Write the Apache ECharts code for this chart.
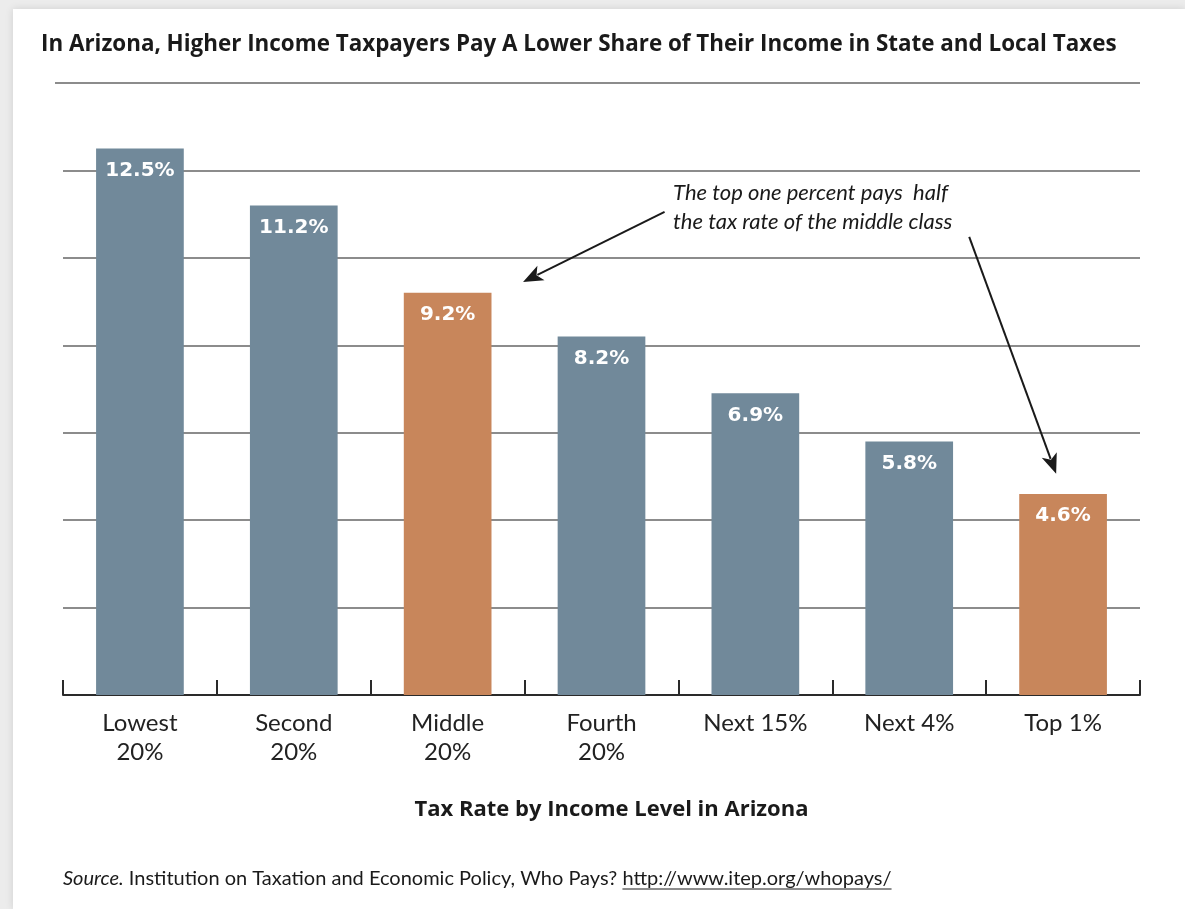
<!DOCTYPE html>
<html>
<head>
<meta charset="utf-8">
<script src="https://cdn.jsdelivr.net/npm/echarts@6/dist/echarts.min.js"></script>
<style>
html,body{margin:0;padding:0;background:#fff;}
#chart{width:1185px;height:909px;}
</style>
</head>
<body>
<div id="chart"></div>
<script>
// ---- data ----
const categories = ['Lowest\n20%', 'Second\n20%', 'Middle\n20%', 'Fourth\n20%', 'Next 15%', 'Next 4%', 'Top 1%'];
const rates = [12.5, 11.2, 9.2, 8.2, 6.9, 5.8, 4.6];
const highlighted = [false, false, true, false, false, false, true];
const yMin = 0, yMax = 14, yInterval = 2;
const titleText = 'In Arizona, Higher Income Taxpayers Pay A Lower Share of Their Income in State and Local Taxes';
const axisTitle = 'Tax Rate by Income Level in Arizona';
const sourceLabel = 'Source.';
const sourceBody = ' Institution on Taxation and Economic Policy, Who Pays? ';
const sourceUrl = 'http://www.itep.org/whopays/';
const noteLines = ['The top one percent pays  half', 'the tax rate of the middle class'];
// annotation anchors in data space: [category index (fractional), value]
const noteAnchor = [3.465, 11.15];
const arrows = [
  { from: [3.41, 11.05], to: [2.49, 9.45] },
  { from: [5.39, 10.48], to: [5.955, 5.06] }
];

const BLUE = '#71899a';
const ORANGE = '#c8865b';
const FONT = 'Lato, "Open Sans", sans-serif';
const BOLDFONT = '"Open Sans", Lato, sans-serif';

const chart = echarts.init(document.getElementById('chart'), null, { renderer: 'canvas' });

chart.setOption({
  backgroundColor: '#ffffff',
  animation: false,
  title: {
    text: titleText,
    left: 36, top: 29,
    textStyle: { fontFamily: BOLDFONT, fontWeight: 'bold', fontSize: 22.4, color: '#1a1a1a' }
  },
  grid: { left: 63, right: 45, top: 83, bottom: 214, containLabel: false },
  xAxis: {
    type: 'category',
    data: categories,
    axisLine: { show: true, lineStyle: { color: '#2a2a2a', width: 2 } },
    axisTick: { show: true, inside: true, length: 15, alignWithLabel: false, lineStyle: { color: '#2a2a2a', width: 2 } },
    axisLabel: { fontFamily: FONT, fontSize: 24, color: '#222', lineHeight: 29, margin: 14, interval: 0 },
    name: axisTitle,
    nameLocation: 'middle',
    nameGap: 104,
    nameTextStyle: { fontFamily: BOLDFONT, fontWeight: 'bold', fontSize: 22, color: '#1a1a1a', padding: [0, 0, 0, 20] },
    splitLine: { show: false }
  },
  yAxis: {
    type: 'value',
    min: yMin, max: yMax, interval: yInterval,
    axisLine: { show: false },
    axisTick: { show: false },
    axisLabel: { show: false },
    splitLine: { show: true, lineStyle: { color: '#8c8c8c', width: 2 } }
  },
  series: [{
    type: 'bar',
    barWidth: '57%',
    data: rates.map((v, i) => ({
      value: v,
      itemStyle: { color: highlighted[i] ? ORANGE : BLUE }
    })),
    label: {
      show: true,
      position: 'insideTop',
      distance: 12,
      formatter: p => p.value.toFixed(1) + '%',
      fontFamily: '"DejaVu Sans", sans-serif',
      fontWeight: 'bold',
      fontSize: 20,
      color: '#ffffff'
    },
    z: 3
  }]
});

// ---- annotations, positioned through the chart's own scales ----
function px(idx, val) {
  const c0 = chart.convertToPixel({ xAxisIndex: 0 }, 0);
  const c1 = chart.convertToPixel({ xAxisIndex: 0 }, 1);
  const x = c0 + (c1 - c0) * idx;
  const y = chart.convertToPixel({ yAxisIndex: 0 }, val);
  return [x, y];
}

const graphics = [];
// page frame shading
graphics.push({ type: 'rect', z: -10, silent: true, shape: { x: 0, y: 0, width: 1185, height: 909 }, style: { fill: '#ececec' } });
graphics.push({ type: 'rect', z: -9, silent: true, shape: { x: 13, y: 9, width: 1172, height: 900 }, style: { fill: '#ffffff', shadowBlur: 8, shadowColor: 'rgba(0,0,0,0.12)' } });

// top rule extends slightly left of the plot
const topL = px(-0.5, yMax);
graphics.push({ type: 'line', z: 1, silent: true, shape: { x1: topL[0] - 8, y1: topL[1], x2: topL[0] + 2, y2: topL[1] }, style: { stroke: '#8c8c8c', lineWidth: 2 } });

const np = px(noteAnchor[0], noteAnchor[1]);
graphics.push({
  type: 'text', x: np[0], y: np[1], z: 10,
  style: {
    text: noteLines.join('\n'),
    font: 'italic 22px ' + FONT,
    fill: '#1a1a1a',
    lineHeight: 29,
    align: 'left',
    verticalAlign: 'middle'
  }
});

arrows.forEach(a => {
  const p0 = px(a.from[0], a.from[1]);
  const p1 = px(a.to[0], a.to[1]);
  const dx = p1[0] - p0[0], dy = p1[1] - p0[1];
  const len = Math.sqrt(dx * dx + dy * dy);
  const ux = dx / len, uy = dy / len;
  const headLen = 20, headHalf = 8;
  const bx = p1[0] - ux * headLen, by = p1[1] - uy * headLen;
  graphics.push({ type: 'line', z: 10, shape: { x1: p0[0], y1: p0[1], x2: bx + ux * 4, y2: by + uy * 4 }, style: { stroke: '#1a1a1a', lineWidth: 2 } });
  graphics.push({
    type: 'polygon', z: 10,
    shape: { points: [[p1[0], p1[1]], [bx - uy * headHalf, by + ux * headHalf], [bx + ux * 5, by + uy * 5], [bx + uy * headHalf, by - ux * headHalf]] },
    style: { fill: '#1a1a1a' }
  });
});

// source line with italic label and underlined url
const ctx = document.createElement('canvas').getContext('2d');
const srcSize = 20;
ctx.font = 'italic ' + srcSize + 'px ' + FONT;
const w1 = ctx.measureText(sourceLabel).width;
ctx.font = srcSize + 'px ' + FONT;
const w2 = ctx.measureText(sourceBody).width;
const w3 = ctx.measureText(sourceUrl).width;
const sx = 63, sy = 879;
graphics.push({ type: 'text', x: sx, y: sy, z: 10, style: { text: sourceLabel, font: 'italic ' + srcSize + 'px ' + FONT, fill: '#1a1a1a', verticalAlign: 'middle' } });
graphics.push({ type: 'text', x: sx + w1, y: sy, z: 10, style: { text: sourceBody, font: srcSize + 'px ' + FONT, fill: '#1a1a1a', verticalAlign: 'middle' } });
graphics.push({ type: 'text', x: sx + w1 + w2, y: sy, z: 10, style: { text: sourceUrl, font: srcSize + 'px ' + FONT, fill: '#1a1a1a', verticalAlign: 'middle' } });
graphics.push({ type: 'line', z: 10, shape: { x1: sx + w1 + w2, y1: sy + 10, x2: sx + w1 + w2 + w3, y2: sy + 10 }, style: { stroke: '#1a1a1a', lineWidth: 1 } });

chart.setOption({ graphic: graphics });
</script>
</body>
</html>
